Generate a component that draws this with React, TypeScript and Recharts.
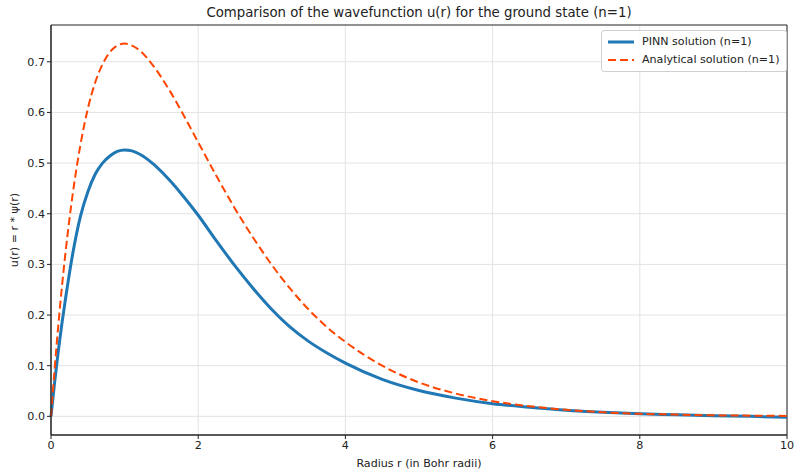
import {
  LineChart,
  Line,
  XAxis,
  YAxis,
  CartesianGrid,
  ReferenceArea,
} from "recharts";

const radius = [
  0, 0.05, 0.1, 0.15, 0.2, 0.3, 0.4, 0.5, 0.6, 0.7, 0.8, 0.9, 1.0, 1.1, 1.2, 1.4,
  1.6, 1.8, 2.0, 2.25, 2.5, 2.75, 3.0, 3.25, 3.5, 3.75, 4.0, 4.5, 5.0, 5.5, 6.0,
  6.5, 7.0, 7.5, 8.0, 8.5, 9.0, 9.5, 10,
];

const pinn = [
  0, 0.068, 0.13, 0.185, 0.235, 0.325, 0.395, 0.443, 0.478, 0.5, 0.514, 0.523,
  0.526, 0.524, 0.518, 0.497, 0.468, 0.434, 0.397, 0.346, 0.297, 0.252, 0.211,
  0.176, 0.148, 0.125, 0.105, 0.073, 0.051, 0.036, 0.025, 0.018, 0.012, 0.008,
  0.005, 0.003, 0.001, 0.0, -0.002,
];

const analytical = [
  0, 0.095, 0.181, 0.258, 0.327, 0.444, 0.536, 0.607, 0.659, 0.695, 0.719,
  0.732, 0.736, 0.732, 0.723, 0.69, 0.646, 0.595, 0.541, 0.474, 0.41, 0.352,
  0.299, 0.252, 0.211, 0.176, 0.147, 0.1, 0.067, 0.045, 0.03, 0.02, 0.013,
  0.008, 0.005, 0.0035, 0.002, 0.0014, 0.0009,
];

const xTicks = [0, 2, 4, 6, 8, 10];
const yTicks = [0, 0.1, 0.2, 0.3, 0.4, 0.5, 0.6, 0.7];

const data = radius.map((r, i) => ({ r, pinn: pinn[i], analytical: analytical[i] }));

const FONT = "'DejaVu Sans', sans-serif";
const BLUE = "#1f77b4";
const ORANGE = "#ff4500";
const Y_MIN = -0.0368;
const Y_MAX = 0.7726;

function LegendBox() {
  return (
    <div
      style={{
        position: "absolute",
        left: 601,
        top: 30,
        background: "rgba(255,255,255,0.85)",
        border: "1px solid #d0d0d0",
        borderRadius: 3,
        padding: "2px 6px 2px 6px",
        fontFamily: FONT,
        fontSize: 11.1,
        color: "#222",
        lineHeight: "18px",
      }}
    >
      <div style={{ display: "flex", alignItems: "center" }}>
        <svg width={26} height={10} style={{ marginRight: 8 }}>
          <line x1={0} y1={5} x2={26} y2={5} stroke={BLUE} strokeWidth={3} />
        </svg>
        PINN solution (n=1)
      </div>
      <div style={{ display: "flex", alignItems: "center" }}>
        <svg width={26} height={10} style={{ marginRight: 8 }}>
          <line x1={0} y1={5} x2={26} y2={5} stroke={ORANGE} strokeWidth={2} strokeDasharray="8 4" />
        </svg>
        Analytical solution (n=1)
      </div>
    </div>
  );
}

export default function App() {
  return (
    <div style={{ position: "absolute", left: 0, top: 0, width: 796, height: 470, background: "#fff" }}>
      <div
        style={{
          position: "absolute",
          top: 5,
          left: 51,
          width: 736,
          textAlign: "center",
          fontFamily: FONT,
          fontSize: 13.3,
          color: "#222",
        }}
      >
        Comparison of the wavefunction u(r) for the ground state (n=1)
      </div>
      <LineChart
        width={796}
        height={470}
        data={data}
        margin={{ top: 25, right: 9, bottom: 0, left: 0 }}
      >
        <CartesianGrid stroke="#e3e3e3" strokeWidth={1} horizontalValues={yTicks} verticalValues={xTicks} />
        <XAxis
          dataKey="r"
          type="number"
          domain={[0, 10]}
          ticks={xTicks}
          height={35}
          tickSize={4}
          tickLine={{ stroke: "#222" }}
          axisLine={{ stroke: "#222" }}
          tick={{ fontSize: 11.1, fill: "#222", fontFamily: FONT }}
          label={{
            value: "Radius r (in Bohr radii)",
            position: "insideBottom",
            offset: 3,
            style: { fontSize: 11.1, fill: "#222", fontFamily: FONT },
          }}
        />
        <YAxis
          type="number"
          domain={[Y_MIN, Y_MAX]}
          ticks={yTicks}
          width={51}
          tickSize={4}
          tickFormatter={(v: number) => v.toFixed(1)}
          tickLine={{ stroke: "#222" }}
          axisLine={{ stroke: "#222" }}
          tick={{ fontSize: 11.1, fill: "#222", fontFamily: FONT }}
          label={{
            value: "u(r) = r * ψ(r)",
            angle: -90,
            position: "insideLeft",
            offset: 14,
            style: { fontSize: 11.1, fill: "#222", fontFamily: FONT, textAnchor: "middle" },
          }}
        />
        <ReferenceArea x1={0} x2={10} y1={Y_MIN} y2={Y_MAX} fill="none" stroke="#222" strokeWidth={1} />
        <Line
          dataKey="pinn"
          type="monotone"
          stroke={BLUE}
          strokeWidth={3}
          dot={false}
          isAnimationActive={false}
        />
        <Line
          dataKey="analytical"
          type="monotone"
          stroke={ORANGE}
          strokeWidth={2}
          strokeDasharray="8 4"
          dot={false}
          isAnimationActive={false}
        />
      </LineChart>
      <LegendBox />
    </div>
  );
}
